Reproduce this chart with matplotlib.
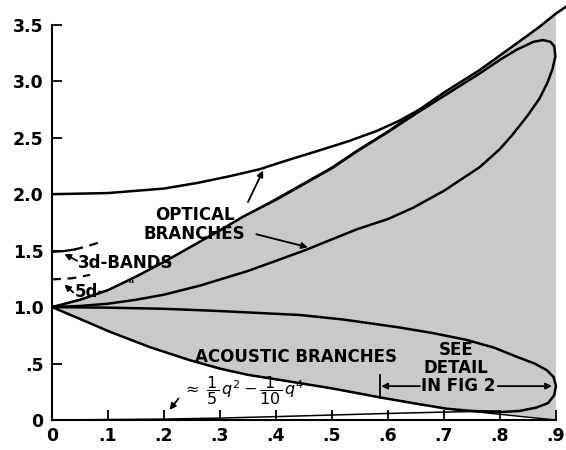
import numpy as np
import matplotlib.pyplot as plt

# Curvas leidas a ojo de la figura original (q en el eje x, frecuencia en y)
# Borde superior de la zona sombreada
hi_x = [0.0, 0.05, 0.1, 0.15, 0.2, 0.25, 0.3, 0.341, 0.4, 0.45, 0.5, 0.545, 0.6, 0.652,
        0.7, 0.764, 0.82, 0.87, 0.9, 0.918]
hi_y = [1.0, 1.065, 1.15, 1.27, 1.40, 1.54, 1.68, 1.80, 1.96, 2.10, 2.24, 2.39, 2.56, 2.74,
        2.90, 3.10, 3.30, 3.48, 3.60, 3.66]

# Borde inferior de la zona sombreada
lo_x = [0.0, 0.05, 0.104, 0.175, 0.246, 0.3, 0.35, 0.413, 0.5, 0.586, 0.65, 0.705, 0.8, 0.9]
lo_y = [1.0, 0.895, 0.78, 0.645, 0.53, 0.455, 0.40, 0.35, 0.28, 0.20, 0.145, 0.10, 0.05, 0.0]

# Rama optica superior (parte de 2.0)
opt_up_x = [0.0, 0.1, 0.2, 0.26, 0.318, 0.37, 0.42, 0.479, 0.53, 0.58, 0.62, 0.66, 0.7,
            0.764, 0.82, 0.87, 0.9, 0.918]
opt_up_y = [2.0, 2.01, 2.05, 2.10, 2.16, 2.22, 2.30, 2.39, 2.47, 2.56, 2.65, 2.76, 2.90,
            3.10, 3.30, 3.48, 3.60, 3.66]

# Lazo optico: lado inferior y vuelta por arriba
opt_loop_x = [0.0, 0.05, 0.1, 0.15, 0.2, 0.264, 0.35, 0.45, 0.545, 0.6, 0.645, 0.7, 0.764,
              0.8, 0.823, 0.85, 0.871, 0.885, 0.894, 0.899, 0.897, 0.89, 0.877, 0.86,
              0.83, 0.8, 0.764, 0.7, 0.652, 0.6, 0.545, 0.5, 0.45, 0.4, 0.341, 0.3,
              0.25, 0.2, 0.15, 0.1, 0.05, 0.0]
opt_loop_y = [1.0, 1.01, 1.03, 1.065, 1.11, 1.19, 1.32, 1.50, 1.69, 1.78, 1.88, 2.03, 2.24,
              2.40, 2.53, 2.70, 2.85, 2.99, 3.11, 3.22, 3.31, 3.35, 3.365, 3.35,
              3.28, 3.19, 3.07, 2.87, 2.72, 2.55, 2.38, 2.23, 2.09, 1.95, 1.80, 1.68,
              1.54, 1.40, 1.27, 1.15, 1.065, 1.0]

# Lazo acustico
ac_loop_x = [0.0, 0.1, 0.2, 0.3, 0.443, 0.52, 0.62, 0.68, 0.74, 0.79, 0.83, 0.862, 0.884,
             0.896, 0.9, 0.897, 0.886, 0.865, 0.835, 0.8, 0.75, 0.705, 0.65, 0.586, 0.5,
             0.413, 0.35, 0.3, 0.246, 0.175, 0.104, 0.05, 0.0]
ac_loop_y = [1.0, 0.995, 0.985, 0.965, 0.93, 0.89, 0.82, 0.77, 0.71, 0.64, 0.56, 0.50, 0.44,
             0.38, 0.30, 0.22, 0.15, 0.11, 0.08, 0.07, 0.08, 0.10, 0.145, 0.20, 0.28,
             0.35, 0.40, 0.455, 0.53, 0.645, 0.78, 0.895, 1.0]

# Rama acustica baja (~ q^2/5 - q^4/10)
ac_low_x = [0.0, 0.2, 0.3, 0.4, 0.5, 0.6, 0.7, 0.8]
ac_low_y = [0.0, 0.008, 0.017, 0.03, 0.044, 0.058, 0.07, 0.08]

# Bandas 3d y 5d
b3_solid_x = [0.0, 0.02, 0.04]
b3_solid_y = [1.49, 1.495, 1.51]
b3_dash_x = [0.04, 0.06, 0.086]
b3_dash_y = [1.51, 1.535, 1.575]
b5_x = [0.0, 0.035, 0.068]
b5_y = [1.245, 1.255, 1.285]

yticks = [0, 0.5, 1.0, 1.5, 2.0, 2.5, 3.0, 3.5]
ytick_labels = ['0', '.5', '1.0', '1.5', '2.0', '2.5', '3.0', '3.5']
xticks = [0, 0.1, 0.2, 0.3, 0.4, 0.5, 0.6, 0.7, 0.8, 0.9]
xtick_labels = ['0', '.1', '.2', '.3', '.4', '.5', '.6', '.7', '.8', '.9']

fig = plt.figure(figsize=(5.66, 4.5), dpi=100)
ax = fig.add_axes([52/566, 30/450, 514/566, 420/450])

# Zona sombreada: borde superior, bajada por x=0.9 y vuelta por el borde inferior
poly_x = hi_x[:-1] + lo_x[::-1]
poly_y = hi_y[:-1] + lo_y[::-1]
ax.fill(poly_x, poly_y, color='#c9c9c9', lw=0, zorder=0)

ax.plot(hi_x, hi_y, color='k', lw=1.1)
ax.plot(lo_x, lo_y, color='k', lw=1.0)
ax.plot(opt_up_x, opt_up_y, color='k', lw=1.8)
ax.plot(opt_loop_x, opt_loop_y, color='k', lw=1.8)
ax.plot(ac_loop_x, ac_loop_y, color='k', lw=1.8)
ax.plot(ac_low_x, ac_low_y, color='k', lw=1.1)

ax.plot(b3_solid_x, b3_solid_y, color='k', lw=1.6)
ax.plot(b3_dash_x, b3_dash_y, color='k', lw=1.6, dashes=(4, 3))
ax.plot(b5_x, b5_y, color='k', lw=1.6, dashes=(4, 3))

fs = 12
fw = 'bold'
arr = dict(arrowstyle='-|>', color='k', lw=1.3, mutation_scale=9, shrinkA=0, shrinkB=0)

ax.text(0.255, 1.82, 'OPTICAL', ha='center', va='center', fontsize=fs, fontweight=fw)
ax.text(0.255, 1.65, 'BRANCHES', ha='center', va='center', fontsize=fs, fontweight=fw)
ax.annotate('', xy=(0.377, 2.21), xytext=(0.35, 1.93), arrowprops=arr)
ax.annotate('', xy=(0.457, 1.53), xytext=(0.365, 1.645), arrowprops=arr)

ax.text(0.046, 1.39, '3d-BANDS', ha='left', va='center', fontsize=fs, fontweight=fw)
ax.annotate('', xy=(0.022, 1.47), xytext=(0.045, 1.41), arrowprops=arr)
ax.text(0.041, 1.13, '5d-', ha='left', va='center', fontsize=fs, fontweight=fw)
ax.text(0.142, 1.19, '"', ha='center', va='center', fontsize=9, fontweight=fw)
ax.annotate('', xy=(0.022, 1.20), xytext=(0.038, 1.13), arrowprops=arr)

ax.text(0.435, 0.56, 'ACOUSTIC BRANCHES', ha='center', va='center', fontsize=fs, fontweight=fw)
ax.text(0.722, 0.62, 'SEE', ha='center', va='center', fontsize=fs, fontweight=fw)
ax.text(0.722, 0.46, 'DETAIL', ha='center', va='center', fontsize=fs, fontweight=fw)
ax.text(0.725, 0.30, 'IN FIG 2', ha='center', va='center', fontsize=fs, fontweight=fw)
ax.plot([0.586, 0.586], [0.195, 0.40], color='k', lw=1.3)
ax.annotate('', xy=(0.588, 0.30), xytext=(0.657, 0.30), arrowprops=arr)
ax.annotate('', xy=(0.893, 0.30), xytext=(0.796, 0.30), arrowprops=arr)

ax.text(0.232, 0.26, r'$\approx\ \dfrac{1}{5}\,q^2 - \dfrac{1}{10}\,q^4$', ha='left', va='center',
        fontsize=11.5)
ax.annotate('', xy=(0.21, 0.09), xytext=(0.226, 0.19), arrowprops=arr)

ax.set_xlim(0, 0.918)
ax.set_ylim(0, 3.72)
for s in ['top', 'right']:
    ax.spines[s].set_visible(False)
ax.spines['left'].set_bounds(0, 3.5)
ax.spines['bottom'].set_bounds(0, 0.9)
ax.spines['left'].set_linewidth(1.5)
ax.spines['bottom'].set_linewidth(1.5)
ax.set_yticks(yticks)
ax.set_yticklabels(ytick_labels, fontweight=fw)
ax.set_xticks(xticks)
ax.set_xticklabels(xtick_labels, fontweight=fw)
ax.tick_params(direction='in', length=7, width=1.3, labelsize=12.5)
ax.tick_params(axis='y', pad=6)
ax.tick_params(axis='x', pad=5)
ax.patch.set_visible(False)

plt.savefig('out.png', dpi=100)
